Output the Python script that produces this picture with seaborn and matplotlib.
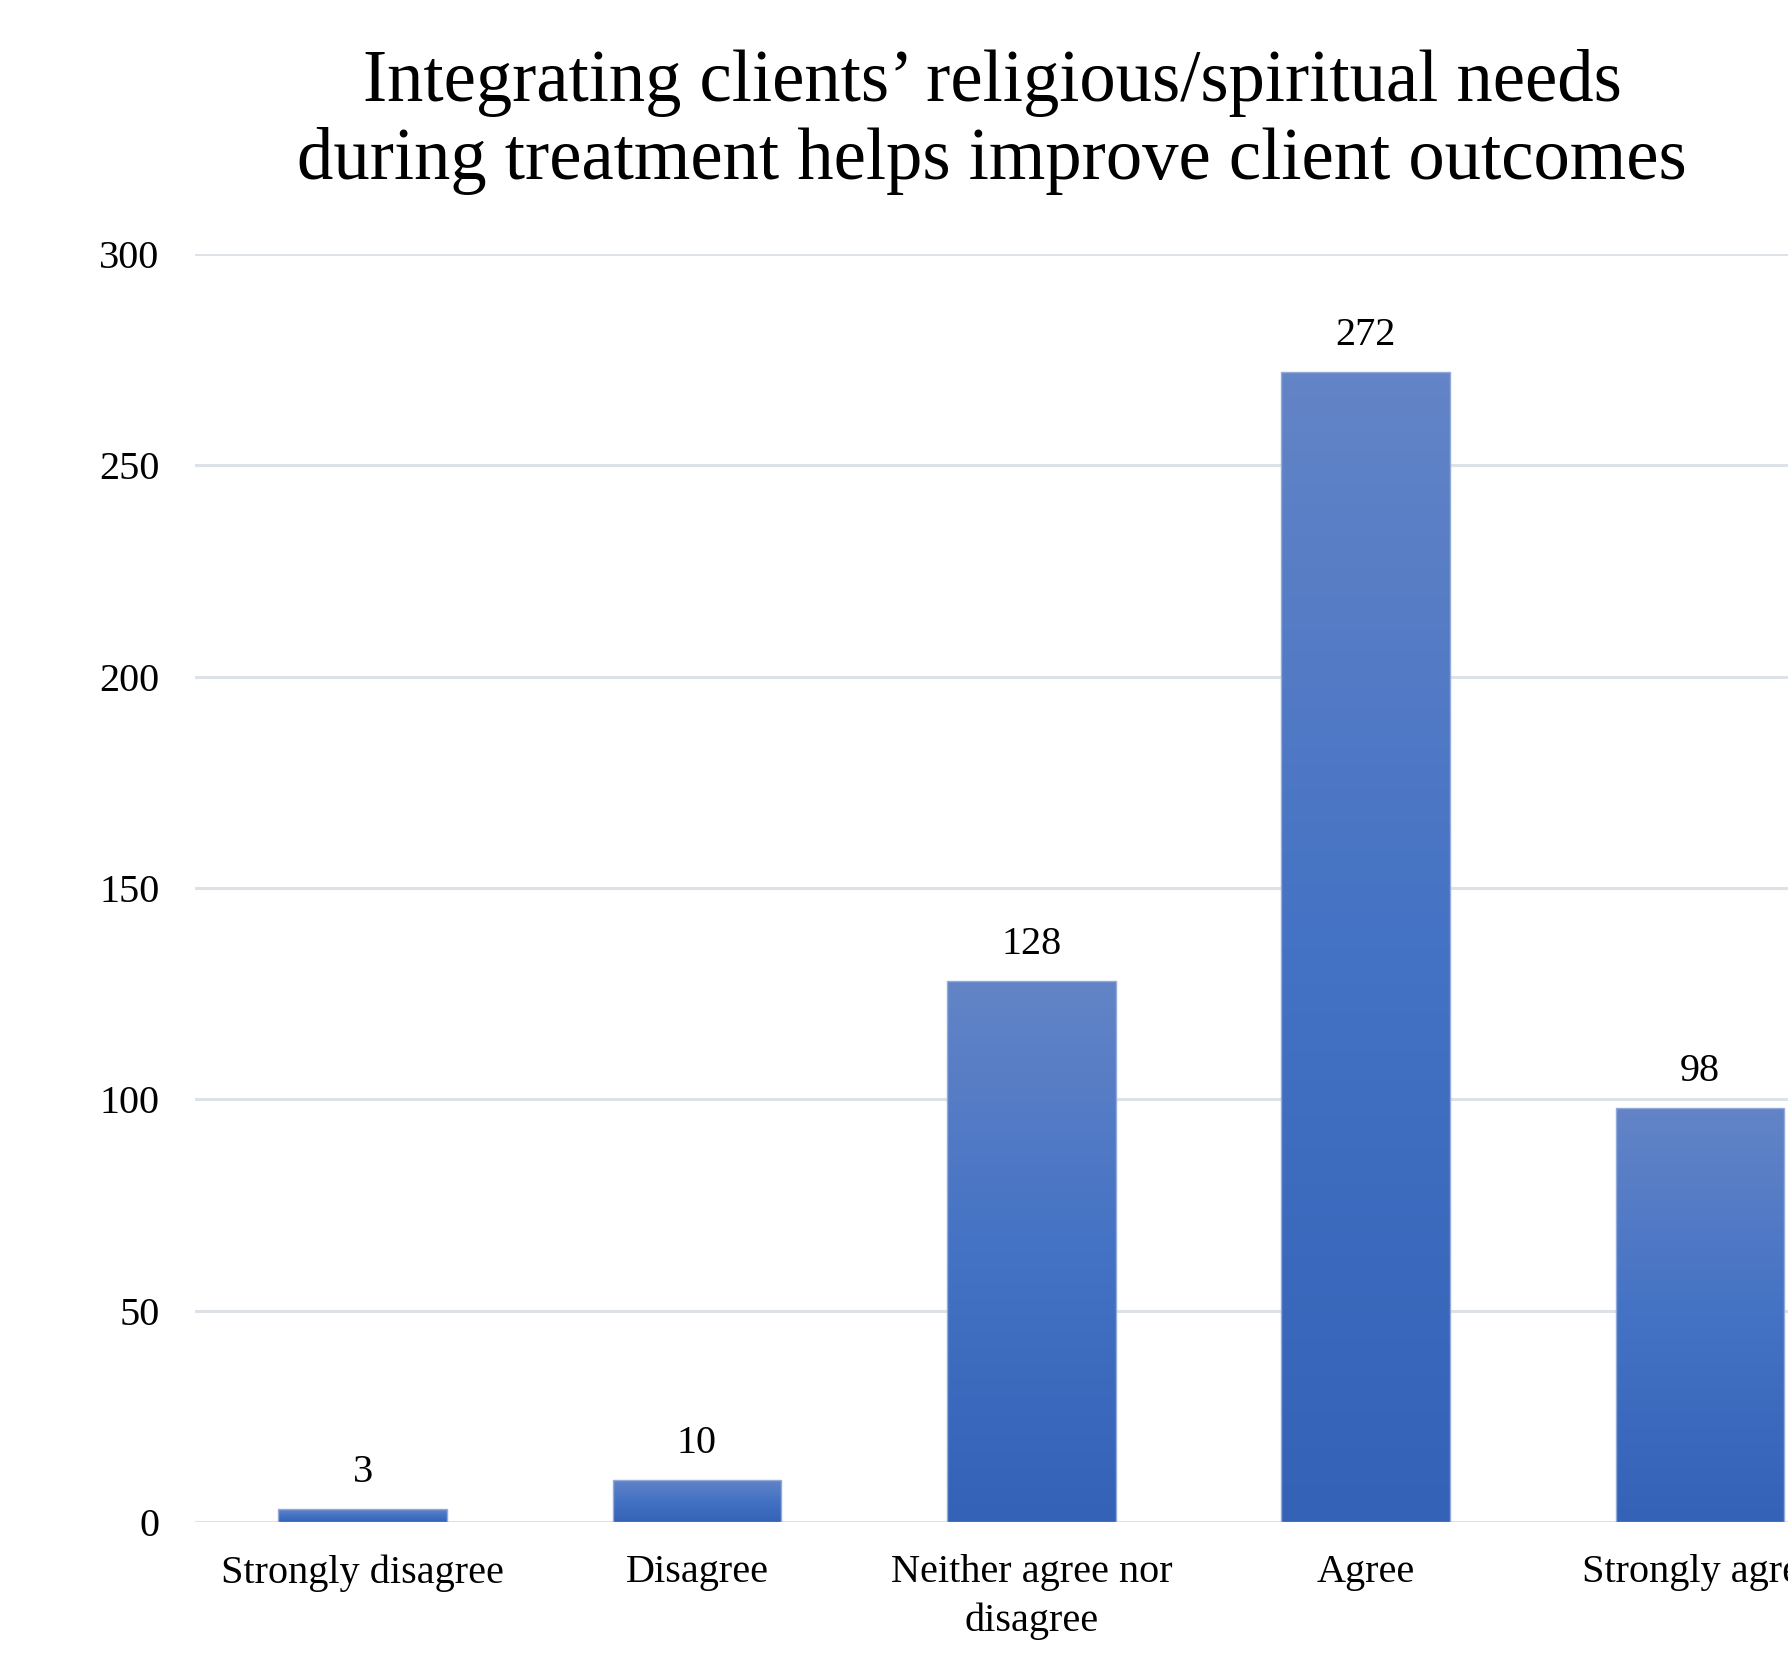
import numpy as np
import pandas as pd
import matplotlib
matplotlib.use("Agg")
import matplotlib.pyplot as plt
from matplotlib.colors import LinearSegmentedColormap
import seaborn as sns

# Survey responses
categories = ["Strongly disagree", "Disagree", "Neither agree nor\ndisagree",
              "Agree", "Strongly agree"]
counts = [3, 10, 128, 272, 98]
y_ticks = [0, 50, 100, 150, 200, 250, 300]
title_lines = ["Integrating clients\u2019 religious/spiritual needs",
               "during treatment helps improve client outcomes"]

df = pd.DataFrame({"response": categories, "count": counts})

sns.set_theme(style="white")
plt.rcParams["font.family"] = ["Liberation Serif", "DejaVu Serif"]

fig = plt.figure(figsize=(17.88, 16.62), dpi=100)
fig.patch.set_facecolor("white")
# plot area runs past the right edge of the canvas
ax = fig.add_axes([0.1093, 0.0842, 0.9350, 0.7629])

sns.barplot(data=df, x="response", y="count", ax=ax, width=0.505,
            color="#4472C4", saturation=1, edgecolor="#93ABDB", linewidth=1.0)

ax.set_ylim(0, 300)
ax.set_xlim(-0.5, len(categories) - 0.5)
ax.set_yticks(y_ticks)
ax.set_yticklabels([str(v) for v in y_ticks])
ax.yaxis.grid(True, color="#DDE1E8", linewidth=2.2)
ax.xaxis.grid(False)
ax.set_axisbelow(True)
for s in ax.spines.values():
    s.set_visible(False)
ax.tick_params(axis="y", length=0, pad=26, labelsize=29, labelcolor="black")
ax.tick_params(axis="x", length=0, pad=23, labelsize=29, labelcolor="black")
for lbl in ax.get_xticklabels():
    lbl.set_linespacing(1.4)
ax.set_xlabel("")
ax.set_ylabel("")

# vertical gradient inside each bar: lighter at the top, deeper at the base
grad_cmap = LinearSegmentedColormap.from_list(
    "bar_grad", ["#3362B7", "#4472C4", "#6384C7"])
grad = np.linspace(0, 1, 256).reshape(-1, 1)
for patch in ax.patches:
    x0, y0 = patch.get_x(), patch.get_y()
    w, h = patch.get_width(), patch.get_height()
    im = ax.imshow(grad, cmap=grad_cmap, origin="lower", aspect="auto",
                   extent=[x0, x0 + w, y0, y0 + h], zorder=patch.get_zorder(),
                   interpolation="bilinear")
    im.set_clip_path(patch)
    patch.set_facecolor("none")
    patch.set_zorder(patch.get_zorder() + 0.1)
ax.set_xlim(-0.5, len(categories) - 0.5)
ax.set_ylim(0, 300)

for cont in ax.containers:
    ax.bar_label(cont, labels=[str(v) for v in counts], padding=13,
                 fontsize=29, color="black")

for i, line in enumerate(title_lines):
    fig.text(0.5548, 1 - (101 + 78 * i) / 1662, line, ha="center",
             va="baseline", fontsize=52.3, color="black")

fig.savefig("out.png", dpi=100, facecolor="white")
